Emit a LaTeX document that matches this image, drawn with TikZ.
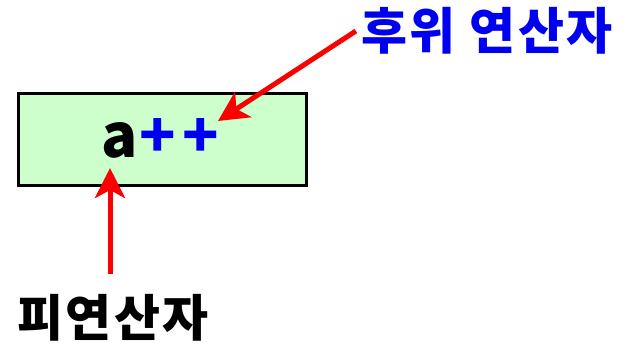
\documentclass[tikz,border=0pt]{standalone}
\usepackage{fontspec}
\setmainfont{Noto Sans CJK KR}
\usetikzlibrary{arrows.meta,positioning}
\definecolor{boxgreen}{RGB}{204,255,204}
\definecolor{opblue}{RGB}{0,0,240}
\definecolor{arrowred}{RGB}{250,0,0}
\tikzset{
  exprbox/.style={draw=black,line width=1.5pt,fill=boxgreen,minimum width=144pt,minimum height=46pt,inner sep=0pt},
  labeltext/.style={inner sep=0pt,font=\fontsize{25}{30}\selectfont\bfseries\addfontfeature{LetterSpace=5}},
  pointer/.style={arrowred,line width=2.5pt,-{Stealth[length=15pt,width=15pt,inset=4pt]}}
}
\begin{document}
\begin{tikzpicture}[x=0.5pt,y=-0.5pt]
  \useasboundingbox (0,0) rectangle (623,343);
  \node[exprbox] (expr) at (162.5,139) {};
  \node[inner sep=0pt,font=\fontsize{30}{36}\selectfont\bfseries] (code) at (160,138) {a\hspace{1pt}\textcolor{opblue}{+\hspace{3pt}+}};
  \node[labeltext,text=opblue] (post) at (487,31) {후위 연산자};
  \node[labeltext] (operand) at (113,318) {피연산자};
  \coordinate (posttip) at (218,121);
  \coordinate (optip) at (110,168);
  % arrows to the expression
  \draw[pointer] ([xshift=-2.5pt]post.west) -- (posttip);
  \draw[pointer] ([xshift=-1.5pt,yshift=10pt]operand.north) -- (optip);
\end{tikzpicture}
\end{document}
